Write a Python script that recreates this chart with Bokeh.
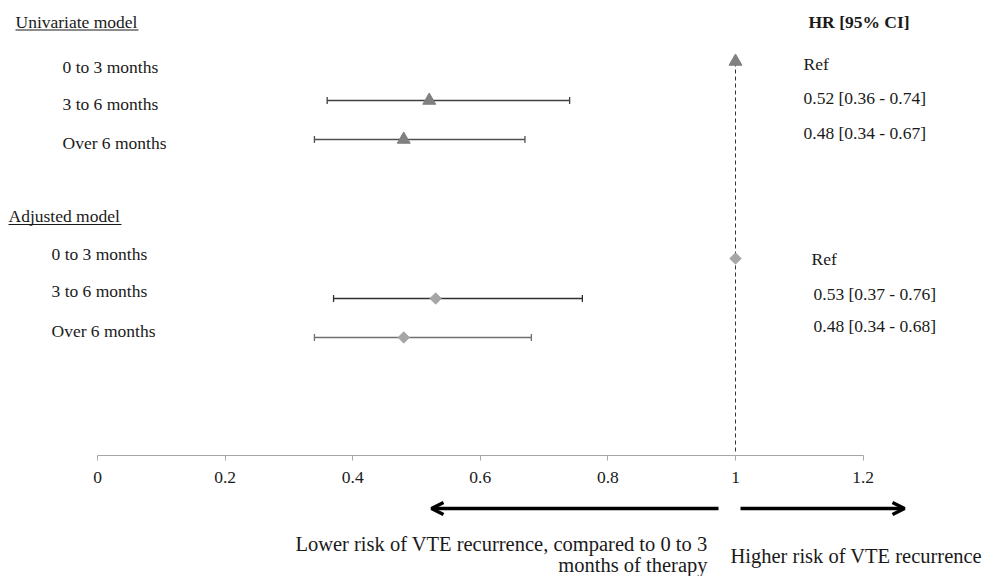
from bokeh.plotting import figure
from bokeh.models import (Range1d, LinearAxis, FixedTicker, Whisker, TeeHead,
                          Arrow, OpenHead, ColumnDataSource)
from bokeh.core.properties import value
from bokeh.embed import file_html
from bokeh.resources import INLINE

# ---------------- data ----------------
uni_title = "Univariate model"
adj_title = "Adjusted model"
header = "HR [95% CI]"
uni_periods = ["0 to 3 months", "3 to 6 months", "Over 6 months"]
uni_hr = [1.00, 0.52, 0.48]
uni_lo = [None, 0.36, 0.34]
uni_hi = [None, 0.74, 0.67]
adj_periods = ["0 to 3 months", "3 to 6 months", "Over 6 months"]
adj_hr = [1.00, 0.53, 0.48]
adj_lo = [None, 0.37, 0.34]
adj_hi = [None, 0.76, 0.68]
ref_value = 1.0
ticks = [0, 0.2, 0.4, 0.6, 0.8, 1.0, 1.2]
tick_labels = ["0", "0.2", "0.4", "0.6", "0.8", "1", "1.2"]
lower_text = ["Lower risk of VTE recurrence, compared to 0 to 3", "months of therapy"]
higher_text = "Higher risk of VTE recurrence"


def ci_label(hr, lo, hi):
    if lo is None:
        return "Ref"
    return f"{hr:.2f} [{lo:.2f} - {hi:.2f}]"


# ---------------- layout ----------------
W, H = 983, 576
X0 = 97          # canvas px where x = 0
K = 638          # px per unit of HR
M = 0            # page offset of the canvas


def px(page_x):
    return (page_x - M - X0) / K


FONT = value("Liberation Serif")
FS = value("17.5px")
FS_BIG = value("20.5px")
TXT = "#1a1a1a"

p = figure(width=W, height=H, output_backend="svg", toolbar_location=None,
           x_range=Range1d(-X0 / K, (W - X0) / K),
           y_range=Range1d(H + M, M),
           x_axis_type=None, y_axis_type=None, min_border=0,
           outline_line_color=None)
p.background_fill_color = "white"
p.border_fill_color = "white"

# x axis at fixed location
ax = LinearAxis(fixed_location=455, ticker=FixedTicker(ticks=ticks),
                major_label_overrides={t: l for t, l in zip(ticks, tick_labels)},
                bounds=(min(ticks), max(ticks)))
ax.axis_line_color = "#a6a6a6"
ax.major_tick_line_color = "#a6a6a6"
ax.major_tick_in = 0
ax.major_tick_out = 5
ax.minor_tick_line_color = None
ax.major_label_text_font = "Liberation Serif"
ax.major_label_text_font_size = "17.5px"
ax.major_label_text_color = TXT
ax.major_label_standoff = 11
p.add_layout(ax, "below")

# reference dashed line
p.segment(x0=[ref_value], y0=[62], x1=[ref_value], y1=[452],
          line_color="#333333", line_width=1, line_dash="4 3")

# rows positions (page px)
uni_label_y = [66, 103, 142]
uni_mark_y = [61, 100, 139]
uni_ci_y = [63, 97, 132]
adj_label_y = [253, 290, 330]
adj_mark_y = [258, 298, 337]
adj_ci_y = [258, 293, 325]


def add_whiskers(hr, lo, hi, ys, colors):
    for h, l, u, y, c in zip(hr, lo, hi, ys, colors):
        if l is None:
            continue
        src = ColumnDataSource(dict(y=[y], lo=[l], hi=[u]))
        w = Whisker(source=src, base="y", lower="lo", upper="hi", dimension="width",
                    line_color=c, line_width=1.3,
                    lower_head=TeeHead(size=7, line_color=c, line_width=1.3),
                    upper_head=TeeHead(size=7, line_color=c, line_width=1.3))
        p.add_layout(w)


add_whiskers(uni_hr, uni_lo, uni_hi, uni_mark_y, ["#404040", "#404040", "#505050"])
add_whiskers(adj_hr, adj_lo, adj_hi, adj_mark_y, ["#404040", "#303030", "#707070"])

# markers
p.scatter(x=uni_hr, y=uni_mark_y, marker="triangle", size=13,
          fill_color="#808080", line_color="#808080")
p.scatter(x=adj_hr, y=adj_mark_y, marker="square", angle=0.785398, size=8,
          fill_color="#a6a6a6", line_color="#a6a6a6")


def txt(xs, ys, texts, size=FS, align="left", style="normal"):
    p.text(x=xs, y=ys, text=texts, text_font=FONT, text_font_size=size,
           text_baseline="middle", text_align=align, text_color=TXT,
           text_font_style=style)


txt([px(15)], [21], [uni_title])
txt([px(8)], [215], [adj_title])
p.segment(x0=[px(15), px(8)], y0=[29.5, 224], x1=[px(138), px(121)], y1=[29.5, 224],
          line_color=TXT, line_width=1)
txt([px(62)] * 3, uni_label_y, uni_periods)
txt([px(51)] * 3, adj_label_y, adj_periods)
txt([px(808)], [21], [header], style="bold")
txt([px(803)] * 3, uni_ci_y, [ci_label(*a) for a in zip(uni_hr, uni_lo, uni_hi)])
txt([px(811), px(813), px(813)], adj_ci_y,
    [ci_label(*a) for a in zip(adj_hr, adj_lo, adj_hi)])

# direction arrows
for xs, xe in [(px(718), px(431)), (px(740), px(904))]:
    p.add_layout(Arrow(end=OpenHead(size=12, line_width=3.5, line_color="black"),
                       x_start=xs, y_start=508, x_end=xe, y_end=508,
                       line_width=3.5, line_color="black"))

txt([px(707), px(707)], [543, 564], lower_text, size=FS_BIG, align="right")
txt([px(730)], [555], [higher_text], size=FS_BIG)

open("out.html", "w").write(file_html(p, INLINE))
